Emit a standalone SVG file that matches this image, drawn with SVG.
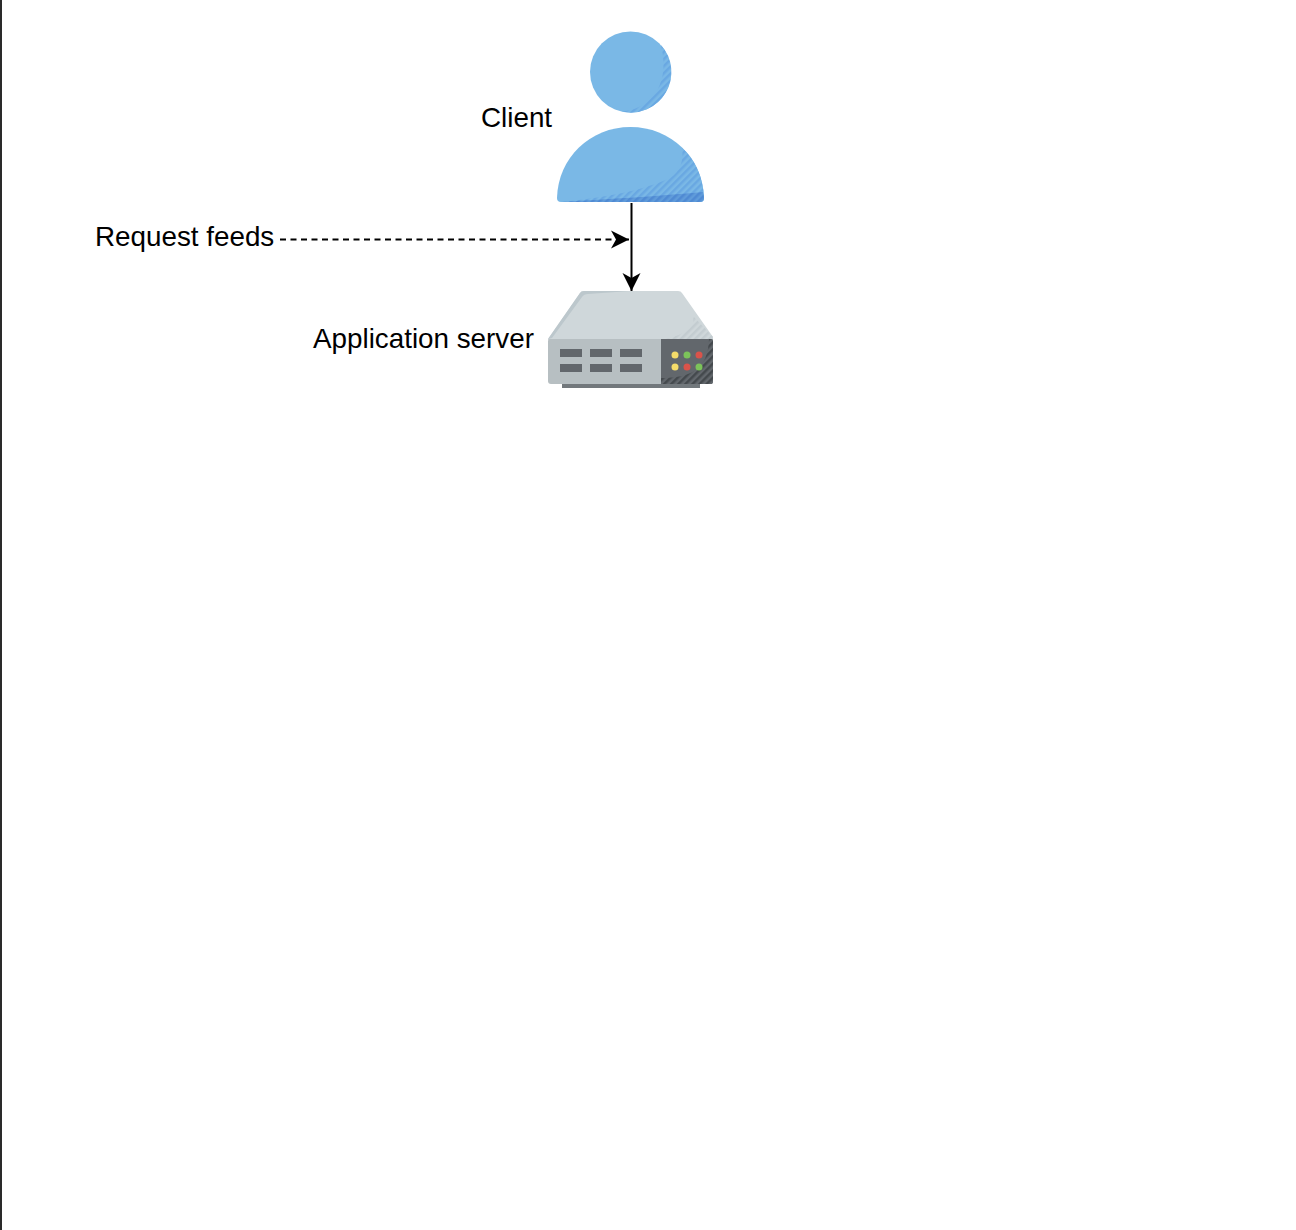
<svg xmlns="http://www.w3.org/2000/svg" width="1296" height="1230" viewBox="0 0 1296 1230">
<style>
text{font-family:"Liberation Sans",Arial,sans-serif;font-size:27.8px;fill:#000}
.wire{fill:none;stroke:#000;stroke-width:2}
.body{fill:#7ab8e6}
.slot{fill:#62676c}
</style>
<defs>
<pattern id="h1" width="5" height="5" patternUnits="userSpaceOnUse" patternTransform="rotate(45)"><rect width="5" height="5" fill="#7ab8e6"/><rect width="2.500" height="5" fill="#69a8e2"/></pattern>
<pattern id="h2" width="5" height="5" patternUnits="userSpaceOnUse" patternTransform="rotate(45)"><rect width="5" height="5" fill="#5f9bda"/><rect width="2.500" height="5" fill="#4f8ad3"/></pattern>
<pattern id="h3" width="5" height="5" patternUnits="userSpaceOnUse" patternTransform="rotate(45)"><rect width="5" height="5" fill="#cfd7da"/><rect width="2.500" height="5" fill="#c3ccd0"/></pattern>
<pattern id="h4" width="5" height="5" patternUnits="userSpaceOnUse" patternTransform="rotate(45)"><rect width="5" height="5" fill="#62676c"/><rect width="2.500" height="5" fill="#44494d"/></pattern>
<marker id="arr" markerUnits="userSpaceOnUse" markerWidth="20" markerHeight="20" refX="18" refY="10" orient="auto"><path d="M0 1L18 10L0 19L5 10Z" fill="#000"/></marker>
</defs>
<rect width="1296" height="1230" fill="#fff"/>
<rect x="0" y="0" width="2" height="1230" fill="#2a2a2a"/>
<g id="client">
<circle class="body" cx="630.500" cy="72" r="40.500"/>
<path fill="url(#h1)" d="M661 45A40.500 40.500 0 0 1 622 111.600C645 110 672 90 661 45Z"/>
<path class="body" d="M557 198C558 158 590 127 630.500 127C671 127 703 158 704 198Q704 202 700 202H561Q557 202 557 198Z"/>
<path fill="url(#h1)" d="M682 148C694 158 703 175 704 198Q704 202 700 202H561C600 198 640 192 670 178C680 172 684 160 682 148Z"/>
<path fill="url(#h2)" d="M562 202C610 199 660 196 703 192L704 198Q704 202 700 202Z"/>
</g>
<g id="server">
<path fill="#cfd7da" d="M548 339L580 293Q581 291 584 291H678Q681 291 682 293L713 337V340H548Z"/>
<path fill="url(#h3)" d="M693 316L713 337V340H661C680 336 696 330 693 316Z"/>
<path fill="#bcc7cc" d="M548 339L580 293Q581 291 584 291L630 291L588 294Q584 294 582 297L552 338Z"/>
<rect x="562" y="384" width="138" height="4" fill="#72787c"/>
<path fill="#b7bfc2" d="M548 341Q548 339 550 339H661V384H551Q548 384 548 381Z"/>
<path class="slot" d="M661 339H711Q713 339 713 341V381Q713 384 711 384H661Z"/>
<path fill="url(#h4)" d="M661 384V378C690 378 708 370 709 339H711Q713 339 713 341V381Q713 384 711 384Z"/>
<rect class="slot" x="560" y="349" width="22" height="8"/>
<rect class="slot" x="590" y="349" width="22" height="8"/>
<rect class="slot" x="620" y="349" width="22" height="8"/>
<rect class="slot" x="560" y="364" width="22" height="8"/>
<rect class="slot" x="590" y="364" width="22" height="8"/>
<rect class="slot" x="620" y="364" width="22" height="8"/>
<circle cx="675" cy="355" r="3.500" fill="#f5dc6a"/>
<circle cx="687" cy="355" r="3.500" fill="#7cc35a"/>
<circle cx="699" cy="355" r="3.500" fill="#d9534a"/>
<circle cx="675" cy="367" r="3.500" fill="#f5dc6a"/>
<circle cx="687" cy="367" r="3.500" fill="#d9534a"/>
<circle cx="699" cy="367" r="3.500" fill="#7cc35a"/>
</g>
<g id="connectors">
<path class="wire" d="M631.500 203V291" marker-end="url(#arr)"/>
<path class="wire" d="M280 239.500H629" stroke-dasharray="6 4.500" marker-end="url(#arr)"/>
</g>
<g id="labels">
<text x="481" y="127">Client</text>
<text x="95" y="246">Request feeds</text>
<text x="313" y="348">Application server</text>
</g>
</svg>
